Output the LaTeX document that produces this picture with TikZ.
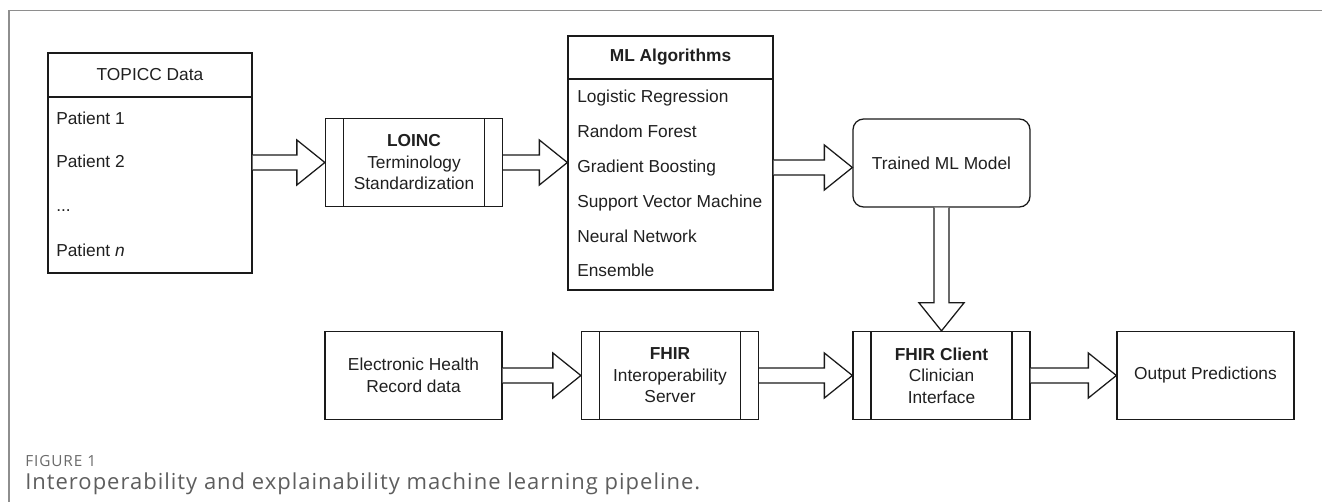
\documentclass[tikz,border=0pt]{standalone}
\usepackage{fontspec}
\setmainfont{Liberation Sans}
\newfontfamily\capfont[LetterSpace=4.5]{Open Sans}
\newfontfamily\figfont[LetterSpace=6]{Open Sans}
\usetikzlibrary{calc}
\definecolor{ln}{HTML}{1A1A1A}
\definecolor{txt}{HTML}{202020}
\definecolor{framecol}{HTML}{8E8E8E}
\definecolor{capgray}{HTML}{5E5E5E}
\definecolor{figgray}{HTML}{6A6A6A}
\newcommand\mainsize{\fontsize{13pt}{16.1pt}\selectfont}
\newcommand\harr[2]{\draw[barrow] let \p1=(#1), \p2=(#2) in
  (\x1,\y2+5.625pt) -- (\x2-21pt,\y2+5.625pt) -- (\x2-21pt,\y2+16.875pt) -- (\x2,\y2)
  -- (\x2-21pt,\y2-16.875pt) -- (\x2-21pt,\y2-5.625pt) -- (\x1,\y2-5.625pt);}
\newcommand\varr[2]{\draw[barrow] let \p1=(#1), \p2=(#2) in
  (\x2+5.625pt,\y1) -- (\x2+5.625pt,\y2+21pt) -- (\x2+16.875pt,\y2+21pt) -- (\x2,\y2)
  -- (\x2-16.875pt,\y2+21pt) -- (\x2-5.625pt,\y2+21pt) -- (\x2-5.625pt,\y1);}
\tikzset{
  box/.style={draw=ln, line width=0.95pt, fill=white, text=txt, font=\mainsize,
    align=center, inner sep=0pt},
  procbox/.style={box, minimum width=132.75pt, minimum height=66pt,
    path picture={
      \draw[ln, line width=0.95pt]
        ([xshift=13.5pt]path picture bounding box.north west) -- ([xshift=13.5pt]path picture bounding box.south west)
        ([xshift=-13.5pt]path picture bounding box.north east) -- ([xshift=-13.5pt]path picture bounding box.south east);}},
  plainbox/.style={box, minimum width=132.75pt, minimum height=66pt},
  item/.style={anchor=base west, inner sep=0pt, text=txt, font=\mainsize},
  barrow/.style={draw=ln, line width=0.95pt, fill=white, line join=miter},
}
\begin{document}
\begin{tikzpicture}[x=0.75pt,y=-0.75pt]
\useasboundingbox (0,0) rectangle (1322,502);
% outer frame
\coordinate (fbl) at (9,502);
\coordinate (ftl) at (9,10.5);
\coordinate (ftr) at (1322,10.5);
\draw[framecol, line width=1.1pt] (fbl) -- (ftl) -- (ftr);

% TOPICC data
\node[box, minimum width=153pt, minimum height=33pt] (tophead) at (150,75) {TOPICC Data};
\node[box, minimum width=153pt, minimum height=132pt] (topbody) at (150,185) {};
\node[item] (p1) at (56,125) {Patient 1};
\node[item] (p2) at (56,168) {Patient 2};
\node[item] (p3) at (56,212) {...};
\node[item] (p4) at (56,257) {Patient \textit{n}};

% LOINC
\node[procbox] (loinc) at (414,162.5) {\textbf{LOINC}\\Terminology\\Standardization};

% ML algorithms
\node[box, minimum width=153.75pt, minimum height=32.25pt] (mlhead) at (670.5,57.5) {\textbf{ML Algorithms}};
\node[box, minimum width=153.75pt, minimum height=158.25pt] (mlbody) at (670.5,184.5) {};
\node[item] (a1) at (577,102.7) {Logistic Regression};
\node[item] (a2) at (577,137.5) {Random Forest};
\node[item] (a3) at (577,172.5) {Gradient Boosting};
\node[item] (a4) at (577,207.5) {Support Vector Machine};
\node[item] (a5) at (577,242.2) {Neural Network};
\node[item] (a6) at (577,277) {Ensemble};

% Trained model
\node[plainbox, rounded corners=8pt] (trained) at (941.5,163) {Trained ML Model};

% bottom row
\node[plainbox] (ehr) at (413.5,375.5) {Electronic Health\\Record data};
\node[procbox] (server) at (670,375.5) {\textbf{FHIR}\\Interoperability\\Server};
\node[procbox] (client) at (941.5,375.5) {\textbf{FHIR Client}\\Clinician\\Interface};
\node[plainbox] (output) at (1205.5,375.5) {Output Predictions};

% block arrows
\harr{topbody.east}{loinc.west}
\harr{loinc.east}{mlbody.west |- loinc.east}
\harr{mlbody.east}{$(trained.west)+(0,4.5)$}
\varr{trained.south}{client.north}
\harr{ehr.east}{server.west}
\harr{server.east}{client.west}
\harr{client.east}{output.west}

% caption
\node[anchor=base west, inner sep=0pt, text=figgray, font=\figfont\fontsize{11.5pt}{13pt}\selectfont] (fig) at (25,466) {FIGURE 1};
\node[anchor=base west, inner sep=0pt, text=capgray, font=\capfont\fontsize{16.5pt}{19pt}\selectfont] (cap) at (25,489) {Interoperability and explainability machine learning pipeline.};
\end{tikzpicture}
\end{document}
